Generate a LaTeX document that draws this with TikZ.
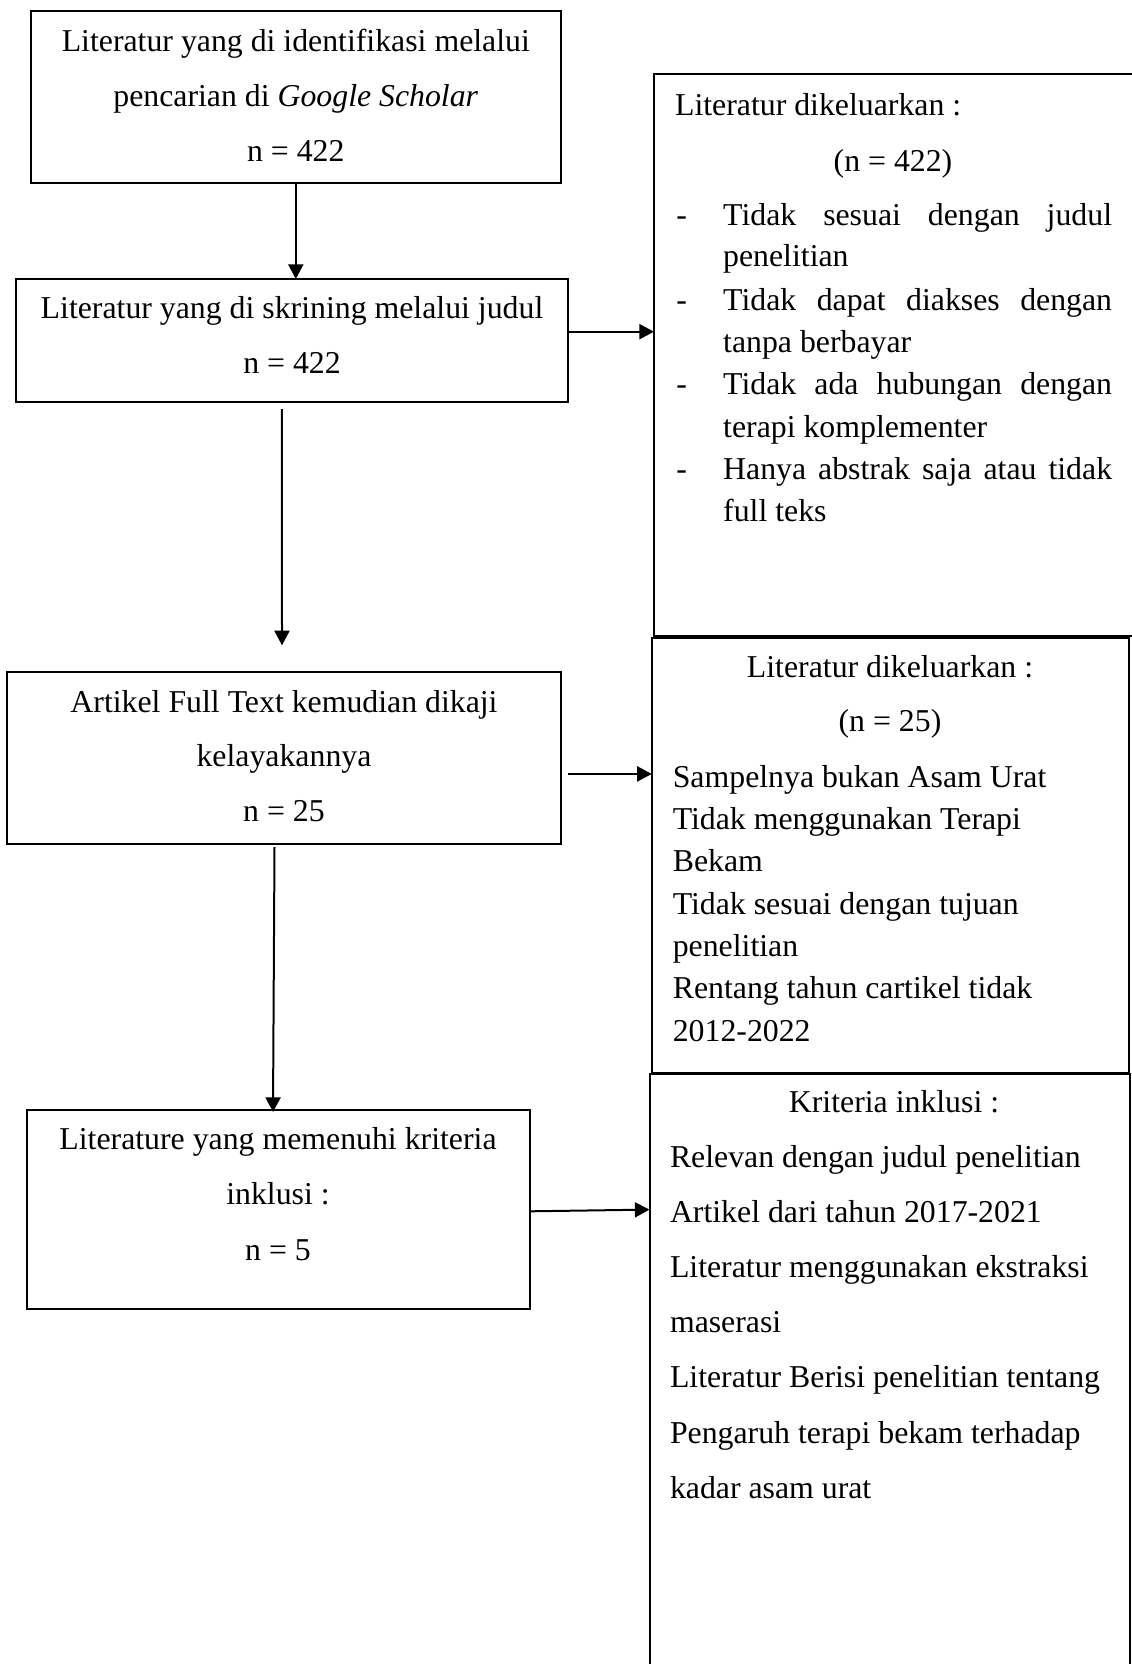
\documentclass[tikz,border=0pt]{standalone}
\usepackage{fontspec}
\setmainfont{Liberation Serif}
\usetikzlibrary{arrows.meta,calc}
\newcommand\fsz{\fontsize{15.9}{19}\selectfont}
\begin{document}
\begin{tikzpicture}[x=0.5pt,y=-0.5pt,
  bx/.style 2 args={draw, line width=1pt, inner sep=0pt, outer sep=0pt, rectangle,
     minimum width=#1*0.5pt, minimum height=#2*0.5pt},
  arr/.style={line width=1pt, -{Triangle[length=7.3pt,width=7.5pt]}},
  ct/.style={inner sep=0pt, anchor=base, font=\fsz},
  lt/.style={inner sep=0pt, anchor=base west, font=\fsz}]
\useasboundingbox (0,0) rectangle (1131,1664);

% boxes
\node[bx={530.4}{171.7}] (b1) at (295.8,96.85) {};
\node[bx={552.3}{123}] (b2) at (292.15,340.5) {};
\node[bx={480}{561.4}] (b3) at (894,355) {};
\node[bx={477.5}{435.6}] (b5) at (890.55,855.5) {};
\node[bx={553.4}{171.7}] (b4) at (283.9,758.15) {};
\node[bx={503.6}{199.2}] (b6) at (278.5,1209.6) {};
\node[bx={480.5}{594.5}] (b7) at (889.75,1370.75) {};

% box 1
\node[ct] (t11) at (295.8,51.7) {Literatur yang di identifikasi melalui};
\node[ct] (t12) at (295.8,107) {pencarian di \textit{Google Scholar}};
\node[ct] (t13) at (295.8,161.7) {n = 422};
% box 2
\node[ct] (t21) at (292,318.3) {Literatur yang di skrining melalui judul};
\node[ct] (t22) at (292,373.3) {n = 422};
% box 3
\node[lt] (t31) at (674.7,115.5) {Literatur dikeluarkan :};
\node[ct] (t32) at (893,171.4) {(n = 422)};
\node[lt] (d1) at (676,225.3) {-};
\node[lt] (t33) at (722.8,225.3) {\makebox[194.45pt][s]{Tidak sesuai dengan judul}};
\node[lt] (t34) at (722.8,266.7) {penelitian};
\node[lt] (d2) at (676,310.7) {-};
\node[lt] (t35) at (722.8,310.7) {\makebox[194.45pt][s]{Tidak dapat diakses dengan}};
\node[lt] (t36) at (722.8,352.8) {tanpa berbayar};
\node[lt] (d3) at (676,394.9) {-};
\node[lt] (t37) at (722.8,394.9) {\makebox[194.45pt][s]{Tidak ada hubungan dengan}};
\node[lt] (t38) at (722.8,437) {terapi komplementer};
\node[lt] (d4) at (676,479) {-};
\node[lt] (t39) at (722.8,479) {\makebox[194.45pt][s]{Hanya abstrak saja atau tidak}};
\node[lt] (t310) at (722.8,521.2) {full teks};
% box 4
\node[ct] (t41) at (284,712.7) {Artikel Full Text kemudian dikaji};
\node[ct] (t42) at (284,766.7) {kelayakannya};
\node[ct] (t43) at (284,821.7) {n = 25};
% box 5
\node[ct] (t51) at (890,677.3) {Literatur dikeluarkan :};
\node[ct] (t52) at (890,731.7) {(n = 25)};
\node[lt] (t53) at (672.4,787.3) {Sampelnya bukan Asam Urat};
\node[lt] (t54) at (672.4,829.6) {Tidak menggunakan Terapi};
\node[lt] (t55) at (672.4,871.9) {Bekam};
\node[lt] (t56) at (672.4,914.2) {Tidak sesuai dengan tujuan};
\node[lt] (t57) at (672.4,956.5) {penelitian};
\node[lt] (t58) at (672.4,998.8) {Rentang tahun cartikel tidak};
\node[lt] (t59) at (672.4,1041.5) {2012-2022};
% box 6
\node[ct] (t61) at (278,1149.8) {Literature yang memenuhi kriteria};
\node[ct] (t62) at (278,1204.7) {inklusi :};
\node[ct] (t63) at (278,1260.3) {n = 5};
% box 7
\node[ct] (t71) at (894,1112.6) {Kriteria inklusi :};
\node[lt] (t72) at (669.6,1167.5) {Relevan dengan judul penelitian};
\node[lt] (t73) at (669.6,1222.3) {Artikel dari tahun 2017-2021};
\node[lt] (t74) at (669.6,1277.9) {Literatur menggunakan ekstraksi};
\node[lt] (t75) at (669.6,1332.7) {maserasi};
\node[lt] (t76) at (669.6,1387.5) {Literatur Berisi penelitian tentang};
\node[lt] (t77) at (669.6,1443.5) {Pengaruh terapi bekam terhadap};
\node[lt] (t78) at (669.6,1498.3) {kadar asam urat};

% connectors
\draw[arr] (b1.south) -- (b1.south |- b2.north);
\draw[arr] ($(b2.east)+(0,-8.8)$) coordinate (a2s) -- (a2s -| b3.west);
\draw[arr] ($(b2.south)+(-10.2,7)$) -- ($(b4.north)+(-1.9,-27)$);
\draw[arr] ($(b4.east)+(7.2,15.8)$) coordinate (a4s) -- (a4s -| b5.west);
\draw[arr] ($(b4.south)+(-9.4,3)$) -- ($(b6.north)+(-5.5,2)$);
\draw[arr] ($(b6.east)+(0,1.7)$) -- (b6.east -| b7.west);
\end{tikzpicture}
\end{document}
